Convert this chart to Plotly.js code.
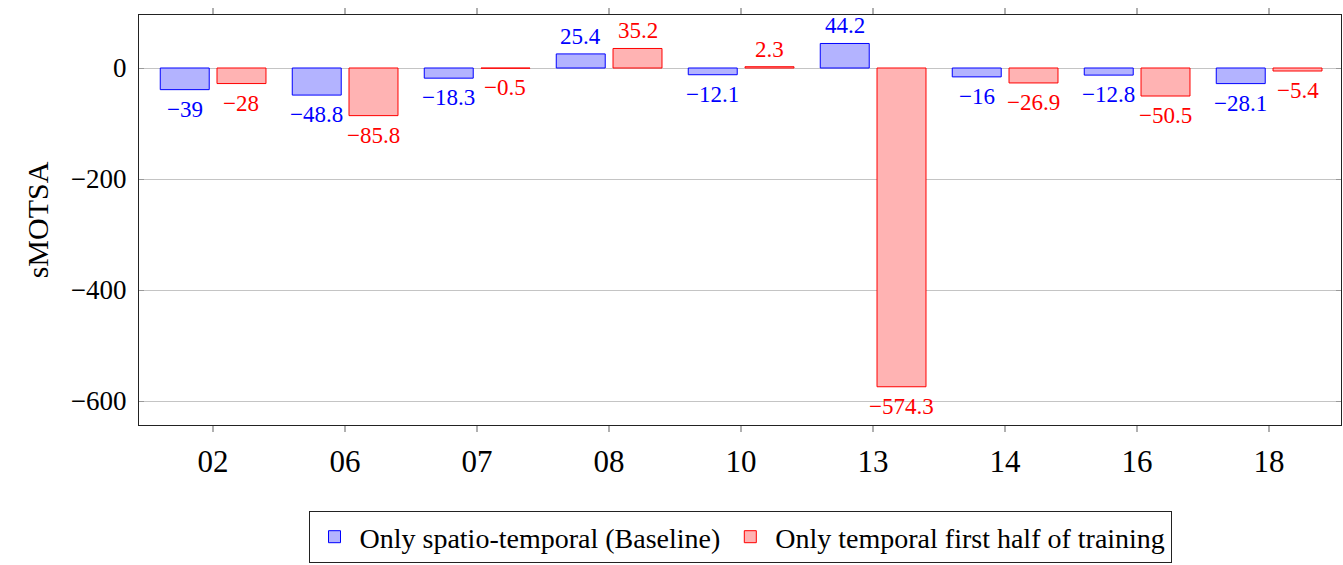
<!DOCTYPE html>
<html>
<head>
<meta charset="utf-8">
<script src="https://cdn.plot.ly/plotly-3.0.1.min.js"></script>
<style>
  html, body { margin: 0; padding: 0; background: #fff; }
  #chart { width: 1343px; height: 565px; }
</style>
</head>
<body>
<div id="chart"></div>
<script>
// Sequences evaluated
const sequences = ['02', '06', '07', '08', '10', '13', '14', '16', '18'];

// sMOTSA per sequence for each training setup
const baselineValues = [-39, -48.8, -18.3, 25.4, -12.1, 44.2, -16, -12.8, -28.1];
const temporalHalfValues = [-28, -85.8, -0.5, 35.2, 2.3, -574.3, -26.9, -50.5, -5.4];

const seriesNames = ['Only spatio-temporal (Baseline)', 'Only temporal first half of training'];
const yTickValues = [-600, -400, -200, 0];

// Format a value with a typographic minus sign
const fmt = v => (v < 0 ? '\u2212' : '') + String(Math.abs(v));

const serif = 'Liberation Serif';

// Geometry of the plot
const W = 1343, H = 565;
const margin = { l: 139, r: 2, t: 15, b: 140 };
const xRange = [-0.561, 8.545];
const pxPerCat = (W - margin.l - margin.r) / (xRange[1] - xRange[0]);
const barWidth = 0.371;

const series = [
  { name: seriesNames[0], values: baselineValues, fill: 'rgb(179,179,255)', edge: 'rgb(0,0,255)', offset: -0.40 },
  { name: seriesNames[1], values: temporalHalfValues, fill: 'rgb(255,179,179)', edge: 'rgb(255,0,0)', offset: 0.03 }
];

const data = series.map(s => ({
  type: 'bar',
  name: s.name,
  x: sequences,
  y: s.values,
  width: barWidth,
  offset: s.offset,
  marker: { color: s.fill, line: { color: s.edge, width: 1 } },
  hoverinfo: 'x+y'
}));

// Value labels just past the end of each bar (x given as category index)
const annotations = [];
series.forEach(s => {
  const dx = (s.offset + barWidth / 2) * pxPerCat;
  s.values.forEach((v, i) => {
    annotations.push({
      x: i,
      y: v,
      xref: 'x',
      yref: 'y',
      text: fmt(v),
      showarrow: false,
      xshift: dx,
      yanchor: v < 0 ? 'top' : 'bottom',
      yshift: v < 0 ? -5 : 3,
      font: { family: serif, size: 23, color: s.edge }
    });
  });
});

const layout = {
  width: W,
  height: H,
  margin: margin,
  paper_bgcolor: '#fff',
  plot_bgcolor: '#fff',
  font: { family: serif, color: '#000' },
  showlegend: true,
  barmode: 'overlay',
  annotations: annotations,
  xaxis: {
    type: 'category',
    range: xRange,
    automargin: false,
    showgrid: false,
    zeroline: false,
    showline: true,
    linecolor: '#222',
    linewidth: 1,
    mirror: 'ticks',
    ticks: 'outside',
    ticklen: 6,
    tickcolor: '#b0b0b0',
    tickwidth: 1.5,
    tickfont: { family: serif, size: 31, color: '#000' },
    ticklabelstandoff: 3
  },
  yaxis: {
    range: [-643.2, 95.5],
    automargin: false,
    tickvals: yTickValues,
    ticktext: yTickValues.map(fmt),
    showgrid: true,
    gridcolor: '#c4c4c4',
    gridwidth: 1,
    zeroline: false,
    showline: true,
    linecolor: '#222',
    linewidth: 1,
    mirror: 'ticks',
    ticks: 'inside',
    ticklen: 5,
    tickcolor: '#999',
    tickfont: { family: serif, size: 27, color: '#000' },
    ticklabelstandoff: 6,
    title: { text: 'sMOTSA', font: { family: serif, size: 30, color: '#000' }, standoff: 13 }
  },
  legend: {
    orientation: 'h',
    xref: 'paper',
    x: 0.5,
    xanchor: 'center',
    yref: 'container',
    y: 1 - 511 / H,
    yanchor: 'top',
    bgcolor: '#fff',
    bordercolor: '#222',
    borderwidth: 1,
    font: { family: serif, size: 28, color: '#000' },
    itemwidth: 40,
    tracegroupgap: 0
  }
};

Plotly.newPlot('chart', data, layout, { displayModeBar: false, staticPlot: true });
</script>
</body>
</html>
